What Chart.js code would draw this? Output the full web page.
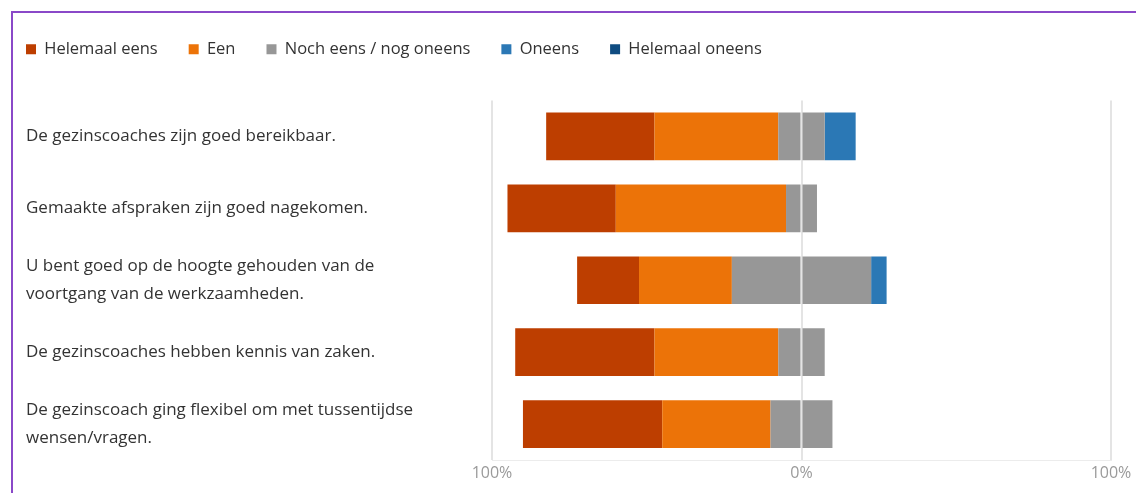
<!DOCTYPE html>
<html lang="nl">
	<head>
		<meta charset="UTF-8" />
		<title>Tevredenheid gezinscoaches</title>
		<script src="https://cdn.jsdelivr.net/npm/chart.js@4.4.1/dist/chart.umd.min.js"></script>
		<style>
			body { margin: 0; background: #fff; overflow: hidden; }
			#frame {
				position: absolute; left: 11px; top: 11px;
				width: 1300px; height: 700px;
				border: 2px solid #8a48c8;
			}
			#chart { position: absolute; left: 0; top: 0; }
		</style>
	</head>
	<body>
		<div id="frame"></div>
		<canvas id="chart" width="1136" height="493"></canvas>
		<script>
			const vragen = [
				"De gezinscoaches zijn goed bereikbaar.",
				"Gemaakte afspraken zijn goed nagekomen.",
				["U bent goed op de hoogte gehouden van de", "voortgang van de werkzaamheden."],
				"De gezinscoaches hebben kennis van zaken.",
				["De gezinscoach ging flexibel om met tussentijdse", "wensen/vragen."],
			];

			// percentages per antwoord
			const helemaalEens = [35, 35, 20, 45, 45];
			const eens = [40, 55, 30, 40, 35];
			const neutraal = [15, 10, 45, 15, 20];
			const oneens = [10, 0, 5, 0, 0];
			const helemaalOneens = [0, 0, 0, 0, 0];

			const asTicks = [-100, 0, 100];

			const kleuren = {
				helemaalEens: "#bd3e00",
				eens: "#ec7308",
				neutraal: "#979797",
				oneens: "#2b78b5",
				helemaalOneens: "#0f4c81",
			};

			const tekst = "#333333";
			const font = "'Open Sans', sans-serif";

			// neutral is split over both sides of the 0 line
			const datasets = [
				{ label: "Noch eens / nog oneens", data: neutraal.map((v) => -v / 2), backgroundColor: kleuren.neutraal },
				{ label: "Een", data: eens.map((v) => -v), backgroundColor: kleuren.eens },
				{ label: "Helemaal eens", data: helemaalEens.map((v) => -v), backgroundColor: kleuren.helemaalEens },
				{ label: "neutraal+", data: neutraal.map((v) => v / 2), backgroundColor: kleuren.neutraal },
				{ label: "Oneens", data: oneens, backgroundColor: kleuren.oneens },
				{ label: "Helemaal oneens", data: helemaalOneens, backgroundColor: kleuren.helemaalOneens },
			];
			const legendRank = [2, 1, 0, 9, 3, 4];

			const legendTweak = {
				id: "legendTweak",
				beforeInit(chart) {
					const fit = chart.legend.fit;
					chart.legend.fit = function () {
						fit.call(this);
						this.height += 33;
					};
				},
				afterLayout(chart) {
					const pad = chart.options.plugins.legend.labels.padding;
					chart.legend.left -= pad;
					chart.legend.right -= pad;
				},
			};

			new Chart(document.getElementById("chart"), {
				type: "bar",
				data: { labels: vragen, datasets: datasets },
				plugins: [legendTweak],
				options: {
					responsive: false,
					animation: false,
					indexAxis: "y",
					layout: { padding: { left: 26, right: 25, top: 10, bottom: 0 } },
					datasets: {
						bar: { categoryPercentage: 0.8, barPercentage: 0.83, borderWidth: 0 },
					},
					plugins: {
						tooltip: { enabled: false },
						legend: {
							position: "top",
							align: "start",
							labels: {
								boxWidth: 10,
								boxHeight: 10,
								padding: 31,
								color: tekst,
								font: { family: font, size: 16.5 },
								filter: (item) => item.datasetIndex !== 3,
								sort: (a, b) => legendRank[a.datasetIndex] - legendRank[b.datasetIndex],
							},
						},
					},
					scales: {
						x: {
							stacked: true,
							min: -100,
							max: 100,
							z: 1,
							afterBuildTicks: (scale) => {
								scale.ticks = asTicks.map((v) => ({ value: v }));
							},
							afterFit: (scale) => {
								scale.height = 33;
							},
							grid: { color: "#e4e4e4", lineWidth: 2, drawTicks: false },
							border: { color: "#ececec", width: 1 },
							ticks: {
								padding: 4,
								color: "#9a9a9a",
								font: { family: font, size: 16 },
								callback: (v) => Math.abs(v) + "%",
							},
						},
						y: {
							stacked: true,
							afterFit: (scale) => {
								scale.width = 466;
							},
							grid: { display: false },
							border: { display: false },
							ticks: {
								crossAlign: "far",
								color: tekst,
								font: { family: font, size: 17, lineHeight: 1.65 },
							},
						},
					},
				},
			});
		</script>
	</body>
</html>
